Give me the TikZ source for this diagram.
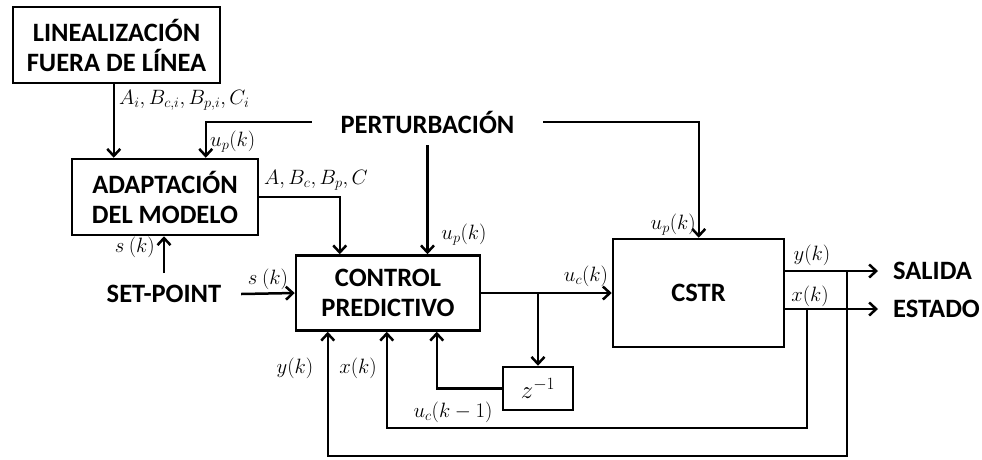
\documentclass[tikz,border=0pt]{standalone}
\usepackage{fontspec}
\setmainfont{Carlito}
\usepackage{amsmath}
\usetikzlibrary{arrows.meta,calc}
\begin{document}
\begin{tikzpicture}[x=1pt,y=-1pt,
  arr/.style={line width=2.5pt,-{Straight Barb[length=7pt,width=13pt,line width=2.5pt]}},
  blk/.style={draw,line width=2.5pt,rectangle,inner sep=0pt,align=center,font=\fontsize{26.5}{30}\selectfont\bfseries},
  txt/.style={inner sep=0pt,align=center,font=\fontsize{26.5}{30}\selectfont\bfseries},
  lbl/.style={inner sep=0pt,font=\fontsize{20}{24}\selectfont}]
\useasboundingbox (0,0) rectangle (982,459);
% blocks
\node[blk,minimum width=207pt,minimum height=76pt] (lin) at (116.5,45) {LINEALIZACIÓN\\FUERA DE LÍNEA};
\node[blk,minimum width=186pt,minimum height=76pt] (adap) at (165,197) {ADAPTACIÓN\\DEL MODELO};
\node[blk,minimum width=184pt,minimum height=75pt] (ctrl) at (388,293) {CONTROL\\PREDICTIVO};
\node[blk,minimum width=171pt,minimum height=108pt] (cstr) at (698.5,293) {CSTR};
\node[blk,minimum width=70pt,minimum height=43pt,font=\fontsize{24}{28}\selectfont] (z) at (538,388.5) {$z^{-1}$};
% texts
\node[txt,minimum width=231pt] (pert) at (427.5,122) {PERTURBACIÓN};
\node[txt,minimum width=154pt] (setp) at (164,294) {SET-POINT};
\node[txt,anchor=west] (sal) at (893,271) {SALIDA};
\node[txt,anchor=west] (est) at (893,309) {ESTADO};
% coordinates
\coordinate (yo) at ([yshift=22pt]cstr.east);
\coordinate (xo) at ([yshift=-16pt]cstr.east);
\coordinate (xb) at (807,428);
\coordinate (yb) at (847,456);
% connectors
\draw[arr] ([xshift=102pt]lin.south west) -- ([xshift=43pt]adap.north west);
\draw[arr] (pert.west) -| ([xshift=135pt]adap.north west);
\draw[arr] (pert.east) -| ([xshift=87pt]cstr.north west);
\draw[arr] ([yshift=-23pt]pert.center) -- (pert.center |- ctrl.north);
\draw[arr] (adap.east) -| ([xshift=45pt]ctrl.north west);
\draw[arr] ([yshift=21pt]setp.center) -- (setp.center |- adap.south);
\draw[arr] (setp.east) -- (ctrl.west);
\draw[arr] (ctrl.east) -- (ctrl.east -| cstr.west);
\draw[arr] (ctrl.east -| z.north) -- (z.north);
\draw[arr] (z.west) -| ([xshift=142pt]ctrl.south west);
\draw[arr] (yo) -- ([xshift=-15pt]sal.west);
\draw[arr] (xo) -- ([xshift=-15pt]est.west);
\draw[arr] (xb |- xo) -- (xb) -| ([xshift=92pt]ctrl.south west);
\draw[arr] (yb |- yo) -- (yb) -| ([xshift=33pt]ctrl.south west);
% labels
\node[lbl,anchor=west] (l1) at (119,100) {$A_i, B_{c,i}, B_{p,i}, C_i$};
\node[lbl,anchor=west] (l2) at (210,142) {$u_p(k)$};
\node[lbl,anchor=west] (l3) at (264,180) {$A, B_c, B_p, C$};
\node[lbl] (l4) at (464,235) {$u_p(k)$};
\node[lbl,anchor=east] (l5) at (696,225) {$u_p(k)$};
\node[lbl,anchor=east] (l6) at (155,247) {$s\ (k)$};
\node[lbl] (l7) at (268,279) {$s\ (k)$};
\node[lbl] (l8) at (586,276) {$u_c(k)$};
\node[lbl] (l9) at (812,255) {$y(k)$};
\node[lbl] (l10) at (810,296) {$x(k)$};
\node[lbl] (l11) at (295,368) {$y(k)$};
\node[lbl] (l12) at (358,368) {$x(k)$};
\node[lbl] (l13) at (453,412) {$u_c(k-1)$};
\end{tikzpicture}
\end{document}
